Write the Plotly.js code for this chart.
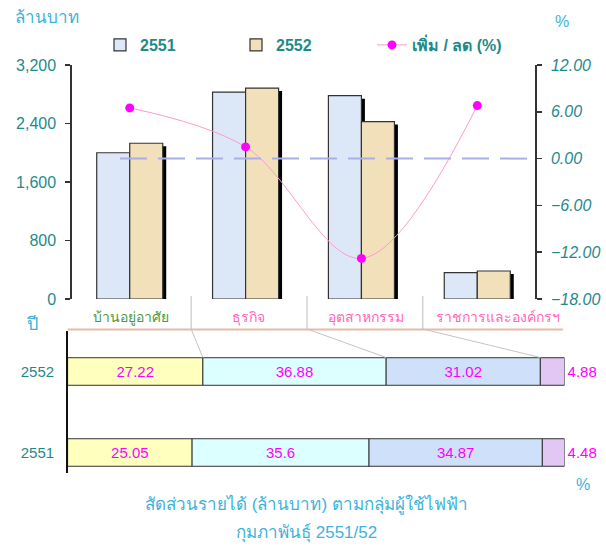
<!DOCTYPE html>
<html>
<head>
<meta charset="utf-8">
<script src="https://cdn.plot.ly/plotly-3.0.1.min.js"></script>
<style>html,body{margin:0;padding:0;background:#fff;}#chart{width:606px;height:546px;}</style>
</head>
<body>
<div id="chart"></div>
<script>
// ---------- data ----------
const categories = ['บ้านอยู่อาศัย', 'ธุรกิจ', 'อุตสาหกรรม', 'ราชการและองค์กรฯ'];
const revenue2551 = [2000, 2830, 2780, 360];
const revenue2552 = [2130, 2885, 2425, 383];
const changePct = [6.5, 1.5, -12.8, 6.8];
const years = ['2551', '2552'];
const share2551 = [25.05, 35.6, 34.87, 4.48];
const share2552 = [27.22, 36.88, 31.02, 4.88];
const leftTicks = [0, 800, 1600, 2400, 3200];
const rightTicks = [-18, -12, -6, 0, 6, 12];

// ---------- helpers / layout constants ----------
const W = 606, H = 546;
const px = v => v / W;
const py = v => 1 - v / H;
const FONT = 'Liberation Sans, Arial, sans-serif';
const TEAL = '#1f8a8a';
const CYAN = '#3db3d9';

const topX0 = 71.8, topX1 = 535.2;
const catW = (topX1 - topX0) / categories.length;
const botX0 = 67.6, botX1 = 564.6;
const barW = 0.285;
const segColors = ['#ffffbe', '#dcffff', '#cfe1fa', '#e2c6f4'];

const traces = [];
// shadows
[revenue2551, revenue2552].forEach((vals, k) => {
  traces.push({
    type: 'bar', x: categories, y: vals, base: -40,
    offset: (k === 0 ? -barW : 0) + 0.03, width: barW,
    marker: {color: '#000', line: {width: 0}},
    xaxis: 'x', yaxis: 'y', showlegend: false, hoverinfo: 'skip'
  });
});
traces.push({
  type: 'bar', name: '2551', x: categories, y: revenue2551,
  offset: -barW, width: barW,
  marker: {color: '#dce8f8', line: {color: '#333', width: 1.2}},
  xaxis: 'x', yaxis: 'y'
});
traces.push({
  type: 'bar', name: '2552', x: categories, y: revenue2552,
  offset: 0, width: barW,
  marker: {color: '#f1e0ba', line: {color: '#333', width: 1.2}},
  xaxis: 'x', yaxis: 'y'
});
traces.push({
  type: 'scatter', mode: 'lines+markers', name: 'เพิ่ม / ลด (%)',
  x: categories, y: changePct,
  line: {color: '#ff99cc', width: 1, shape: 'spline', smoothing: 1},
  marker: {color: '#ff00ff', size: 9},
  xaxis: 'x', yaxis: 'y2'
});

// bottom stacked share bars
const cum2551 = [0], cum2552 = [0];
for (let i = 0; i < categories.length; i++) {
  cum2551.push(cum2551[i] + share2551[i]);
  cum2552.push(cum2552[i] + share2552[i]);
}
const nCat = categories.length;
for (let i = 0; i < nCat; i++) {
  const last = i === nCat - 1;
  traces.push({
    type: 'bar', orientation: 'h',
    x: [share2551[i], share2552[i]], y: years,
    base: [cum2551[i], cum2552[i]],
    width: 0.34,
    text: [String(share2551[i]), String(share2552[i])],
    texttemplate: '%{text}',
    textposition: last ? 'outside' : 'inside',
    insidetextanchor: 'middle', textangle: 0,
    cliponaxis: false, constraintext: 'none',
    textfont: {family: FONT, size: 15, color: '#ff00ff'},
    marker: {color: segColors[i], line: {color: '#333', width: 1}},
    xaxis: 'x2', yaxis: 'y3', showlegend: false, name: categories[i]
  });
}

// ---------- shapes ----------
const shapes = [];
shapes.push({type: 'line', xref: 'paper', yref: 'y2', x0: px(120), x1: px(topX1), y0: 0, y1: 0,
  line: {color: '#a9aee8', width: 2, dash: '27px,11px'}});
for (let i = 1; i < nCat; i++) {
  const sx = topX0 + (i + 0.03) * catW;
  shapes.push({type: 'line', xref: 'paper', yref: 'paper', x0: px(sx), x1: px(sx), y0: py(296), y1: py(329),
    line: {color: '#bdbdbd', width: 1}});
  const ex = botX0 + cum2552[i] / 100 * (botX1 - botX0);
  shapes.push({type: 'line', xref: 'paper', yref: 'paper', x0: px(sx), x1: px(ex), y0: py(329), y1: py(357.5),
    line: {color: '#c4c4c4', width: 1}});
}
shapes.push({type: 'line', xref: 'paper', yref: 'paper', x0: px(67.6), x1: px(563), y0: py(329.5), y1: py(329.5),
  line: {color: '#e3bba8', width: 2}});

// ---------- annotations ----------
const catLabelX = [131, 249, 366, 498];
const catLabelColor = ['#4b9a3c', '#ff66bb', '#ff66bb', '#ff66bb'];
const annotations = categories.map((c, i) => ({
  text: c, xref: 'paper', yref: 'paper', x: px(catLabelX[i]), y: py(317),
  xanchor: 'center', yanchor: 'middle', showarrow: false,
  font: {family: FONT, size: 14, color: catLabelColor[i]}
}));
annotations.push(
  {text: 'ล้านบาท', xref: 'paper', yref: 'paper', x: px(13), y: py(17), xanchor: 'left', yanchor: 'middle', showarrow: false, font: {family: FONT, size: 17, color: CYAN}},
  {text: '%', xref: 'paper', yref: 'paper', x: px(562), y: py(22), xanchor: 'center', yanchor: 'middle', showarrow: false, font: {family: FONT, size: 16, color: CYAN}},
  {text: 'ปี', xref: 'paper', yref: 'paper', x: px(32), y: py(324), xanchor: 'center', yanchor: 'middle', showarrow: false, font: {family: FONT, size: 18, color: CYAN}},
  {text: '%', xref: 'paper', yref: 'paper', x: px(583), y: py(484), xanchor: 'center', yanchor: 'middle', showarrow: false, font: {family: FONT, size: 16, color: CYAN}},
  {text: 'สัดส่วนรายได้ (ล้านบาท) ตามกลุ่มผู้ใช้ไฟฟ้า', xref: 'paper', yref: 'paper', x: px(306), y: py(504), xanchor: 'center', yanchor: 'middle', showarrow: false, font: {family: FONT, size: 17, color: CYAN}},
  {text: 'กุมภาพันธุ์ 2551/52', xref: 'paper', yref: 'paper', x: px(306), y: py(533), xanchor: 'center', yanchor: 'middle', showarrow: false, font: {family: FONT, size: 17, color: CYAN}}
);

const layout = {
  width: W, height: H,
  margin: {l: 0, r: 0, t: 0, b: 0},
  paper_bgcolor: '#fff', plot_bgcolor: 'rgba(0,0,0,0)',
  barmode: 'overlay',
  showlegend: true,
  legend: {orientation: 'h', x: px(100), xanchor: 'left', y: py(45), yanchor: 'middle',
    entrywidth: 91, entrywidthmode: 'pixels', itemwidth: 30,
    font: {family: FONT, size: 16, color: TEAL, weight: 'bold'}, bgcolor: 'rgba(0,0,0,0)'},
  xaxis: {domain: [px(topX0), px(topX1)], type: 'category', range: [-0.5, 3.5], anchor: 'y',
    showticklabels: false, ticks: '', showline: false, showgrid: false, zeroline: false, fixedrange: true},
  yaxis: {domain: [py(299), py(65)], range: [0, 3200], tickvals: leftTicks, tickformat: ',', anchor: 'x',
    showline: true, linecolor: '#333', linewidth: 1.5, ticks: 'outside', ticklen: 5, tickcolor: '#333', tickwidth: 1.5,
    showgrid: false, zeroline: false, ticklabelstandoff: 6,
    tickfont: {family: FONT, size: 16, color: TEAL}},
  yaxis2: {domain: [py(299), py(65)], range: [-18, 12], tickvals: rightTicks, tickformat: '.2f', overlaying: 'y', side: 'right', anchor: 'x',
    showline: true, linecolor: '#333', linewidth: 1.5, ticks: 'outside', ticklen: 5, tickcolor: '#333', tickwidth: 1.5,
    showgrid: false, zeroline: false, ticklabelstandoff: 6,
    tickfont: {family: FONT, size: 16, color: TEAL, style: 'italic'}},
  yaxis4: {domain: [py(299), py(65)], range: [0, 3200], tickvals: leftTicks, overlaying: 'y', side: 'left', anchor: 'x',
    showline: false, ticks: 'inside', ticklen: 5, tickcolor: '#333', tickwidth: 1.5, showticklabels: false, showgrid: false, zeroline: false},
  yaxis5: {domain: [py(299), py(65)], range: [-18, 12], tickvals: rightTicks, overlaying: 'y', side: 'right', anchor: 'x',
    showline: false, ticks: 'inside', ticklen: 5, tickcolor: '#333', tickwidth: 1.5, showticklabels: false, showgrid: false, zeroline: false},
  xaxis2: {domain: [px(botX0), px(botX1)], range: [0, 100.001], anchor: 'y3', visible: false, fixedrange: true},
  yaxis3: {domain: [py(473), py(331)], type: 'category', categoryorder: 'array', categoryarray: years,
    range: [-0.253, 1.5], anchor: 'x2', showline: true, linecolor: '#111', linewidth: 1.5, ticks: '',
    showgrid: false, zeroline: false, ticklabelstandoff: 9,
    tickfont: {family: FONT, size: 15, color: TEAL}},
  shapes: shapes,
  annotations: annotations
};

Plotly.newPlot('chart', traces, layout, {displayModeBar: false, staticPlot: true});
</script>
</body>
</html>
